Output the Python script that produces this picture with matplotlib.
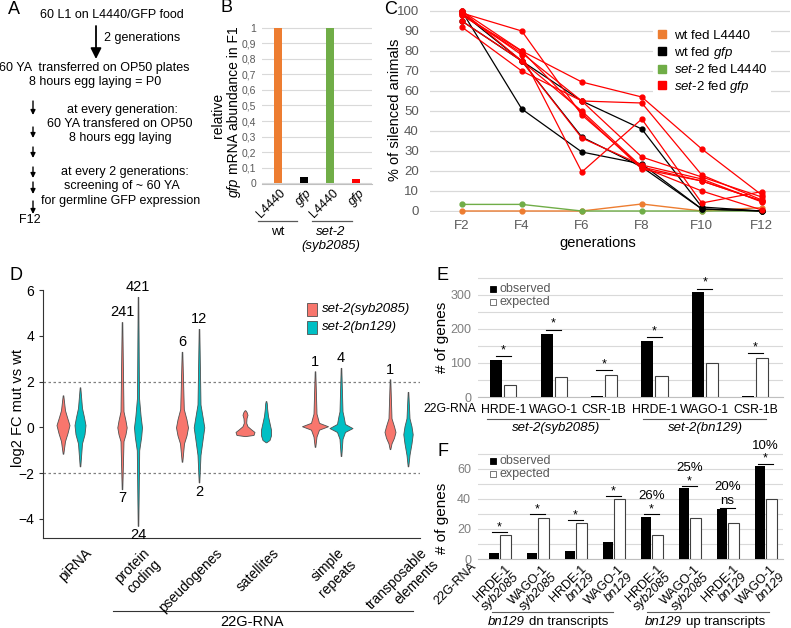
import numpy as np
import matplotlib
matplotlib.use('Agg')
import matplotlib.pyplot as plt
from matplotlib.patches import Rectangle
from matplotlib.lines import Line2D

plt.rcParams['font.family'] = ['Liberation Sans', 'DejaVu Sans']
plt.rcParams['mathtext.fontset'] = 'custom'
plt.rcParams['mathtext.rm'] = 'Liberation Sans'
plt.rcParams['mathtext.it'] = 'Liberation Sans:italic'

# ============  data  ============
# B : relative gfp mRNA abundance
b_labels = ['L4440', 'gfp', 'L4440', 'gfp']
b_values = [1.0, 0.04, 1.0, 0.028]

# C : % of silenced animals
gens = ['F2', 'F4', 'F6', 'F8', 'F10', 'F12']
wt_l4440 = [0, 0, 0, 3.5, 0, 1.7]
set2_l4440 = [3.3, 3.3, 0, 0, 0, 0]
wt_gfp = [
    [100, 51, 29.5, 23.5, 1, 0],
    [95, 75, 55, 41, 2, 0],
    [99, 75, 37, 22, 1, 0],
]
set2_gfp = [
    [99, 90, 48, 22, 15, 5],
    [100, 80, 64.5, 57, 31, 8],
    [98, 79, 55, 54, 18, 5.5],
    [92, 70, 55, 27, 17, 7],
    [95, 75, 50, 22, 10, 0.5],
    [100, 75, 36.5, 23, 16, 4.5],
    [99, 78, 19.5, 46, 4, 9.7],
    [98, 80, 49, 21, 15, 5],
]

# D : violin outlines (log2 FC, half width) per category
d_cats = ['piRNA', 'protein\ncoding', 'pseudogenes', 'satellites',
          'simple\nrepeats', 'transposable\nelements']
viol_syb = [
    [(-1.15, 0.3), (-0.6, 2), (-0.25, 4.5), (0.1, 6.5), (0.45, 4), (0.75, 2), (1.4, 0.3)],
    [(-2.7, 0.3), (-0.6, 1.5), (-0.3, 3.5), (0.0, 4.7), (0.3, 3.5), (0.7, 1.5), (4.6, 0.3)],
    [(-1.5, 0.3), (-0.7, 2), (-0.35, 4.5), (0.0, 6), (0.35, 4.5), (0.8, 1.8), (3.3, 0.3)],
    [(-0.38, 0.3), (-0.33, 8.5), (-0.2, 9.5), (-0.08, 6), (0.05, 2.5), (0.2, 1.2),
     (0.4, 1.5), (0.55, 2.5), (0.68, 1.5), (0.75, 0.3)],
    [(-0.85, 0.3), (-0.4, 1.5), (-0.1, 4), (0.05, 13), (0.2, 4), (0.6, 1.5), (2.45, 0.3)],
    [(-0.95, 0.3), (-0.7, 1.5), (-0.45, 4), (-0.2, 5.5), (0.05, 4), (0.4, 1.5), (2.1, 0.3)],
]
viol_bn = [
    [(-1.7, 0.3), (-0.7, 2), (-0.3, 4.5), (0.1, 5.5), (0.45, 4), (0.85, 2), (1.75, 0.3)],
    [(-4.3, 0.3), (-1.0, 1.2), (-0.4, 3.2), (0.0, 4.0), (0.5, 2.6), (1.3, 1.0), (5.7, 0.3)],
    [(-2.4, 0.3), (-1.2, 1.5), (-0.4, 4), (0.0, 5.3), (0.35, 4), (1.0, 1.5), (4.3, 0.3)],
    [(-0.65, 0.3), (-0.55, 3.5), (-0.35, 5), (-0.1, 5), (0.2, 3.5), (0.5, 2),
     (0.8, 1.2), (1.05, 0.8), (1.15, 0.3)],
    [(-1.25, 0.3), (-0.5, 1.5), (-0.2, 4), (-0.03, 11.5), (0.15, 4), (0.5, 2.5),
     (0.7, 1.5), (2.6, 0.3)],
    [(-1.7, 0.3), (-1.2, 1.5), (-0.7, 3.5), (-0.3, 4.7), (0.05, 3.5), (0.4, 1.5), (1.55, 0.3)],
]
d_up_syb = ['', '241', '6', '', '1', '1']
d_up_bn = ['', '421', '12', '', '4', '']
d_dn_syb = ['', '7', '', '', '', '']
d_dn_bn = ['', '24', '2', '', '', '']

# E : overlap with 22G-RNA targets
e_cats = ['HRDE-1', 'WAGO-1', 'CSR-1B', 'HRDE-1', 'WAGO-1', 'CSR-1B']
e_obs = [108, 184, 2, 163, 307, 4]
e_exp = [35, 59, 64, 61, 100, 113]
e_sig = [119, 198, 79, 175, 318, 128]

# F : bn129 dn / up transcripts
f_cats = ['HRDE-1', 'WAGO-1', 'HRDE-1', 'WAGO-1'] * 2
f_strain = ['syb2085', 'syb2085', 'bn129', 'bn129'] * 2
f_obs = [4, 4, 5, 11, 28, 47, 33, 62]
f_exp = [16, 27, 24, 40, 16, 27, 24, 40]
f_sig = [18, 30, 26, 42, 30, 48.5, 34, 63.5]
f_mark = ['*', '*', '*', '*', '*', '*', 'ns', '*']
f_pct = ['', '', '', '', '26%', '25%', '20%', '10%']

# ============  figure  ============
W, H = 791, 628
fig = plt.figure(figsize=(W / 100, H / 100), dpi=100)
rend = fig.canvas.get_renderer()
GRAY = '#595959'
GRID = '#D9D9D9'


def add_ax(x0, y0, x1, y1):
    return fig.add_axes([x0 / W, 1 - y1 / H, (x1 - x0) / W, (y1 - y0) / H])


ov = fig.add_axes([0, 0, 1, 1], zorder=10)
ov.set_xlim(0, W)
ov.set_ylim(H, 0)
ov.axis('off')


def txt(x, y, s, size=9, **kw):
    kw.setdefault('ha', 'center')
    kw.setdefault('va', 'center')
    return ov.text(x, y, s, fontsize=size, **kw)


def runs(x, y, parts, size, rot=0, color='black'):
    # mixed italic / upright text, centred on x (rot=0) or y (rot=90), baseline anchored
    ts = [ov.text(0, 0, s, fontsize=size, style=st, color=color, rotation=rot,
                  rotation_mode='anchor', ha='left', va='baseline') for s, st in parts]
    gap = size * 100 / 72 * 0.28
    ext = [t.get_window_extent(rend) for t in ts]
    lens = [e.width if rot == 0 else e.height for e in ext]
    total = sum(lens) + gap * (len(ts) - 1)
    cur = x - total / 2 if rot == 0 else y + total / 2
    for t, n in zip(ts, lens):
        if rot == 0:
            t.set_position((cur, y))
            cur += n + gap
        else:
            t.set_position((x, cur))
            cur -= n + gap


def arrow(x, y0, y1, lw, ms):
    ov.annotate('', xy=(x, y1), xytext=(x, y0),
                arrowprops=dict(arrowstyle='-|>', lw=lw, color='black', mutation_scale=ms,
                                shrinkA=0, shrinkB=0))


# panel letters
for s, x, y in [('A', 14, 9), ('B', 227, 8), ('C', 391, 9),
                ('D', 16, 276), ('E', 443, 275), ('F', 443, 451)]:
    txt(x, y, s, 13)

# ============  A : scheme  ============
txt(112, 15, '60 L1 on L4440/GFP food')
txt(104, 38, '2 generations', ha='left')
arrow(96, 26, 59, 1.3, 16)
txt(94, 68, '60 YA  transferred on OP50 plates')
txt(95, 82, '8 hours egg laying = P0')
txt(122, 110, 'at every generation:')
txt(120, 124, '60 YA transfered on OP50')
txt(120, 138, '8 hours egg laying')
txt(125, 172, 'at every 2 generations:')
txt(122, 186, 'screening of ~ 60 YA')
txt(121, 201, 'for germline GFP expression')
txt(30, 220, 'F12')
for y0, y1 in [(101, 115), (127, 138), (147, 158), (167, 178), (182, 194), (201, 214)]:
    arrow(33, y0, y1, 1.0, 7)

# ============  B : bars  ============
axB = add_ax(262, 27, 372, 184)
axB.bar(range(4), b_values, width=0.3, zorder=3,
        color=['#ED7D31', 'black', '#70AD47', '#FF0000'])
axB.set_xlim(-0.6, 3.6)
axB.set_ylim(-0.006, 1.006)
yt = np.round(np.arange(0, 1.01, 0.1), 1)
axB.set_yticks(yt)
axB.set_yticklabels([('%g' % v).replace('.', ',') for v in yt])
axB.set_xticks([])
axB.yaxis.grid(True, color=GRID, lw=0.8)
axB.tick_params(axis='y', length=0, labelsize=7.5, labelcolor=GRAY, pad=4)
for sp in ['top', 'right', 'left']:
    axB.spines[sp].set_visible(False)
axB.spines['bottom'].set_color('#BFBFBF')
for i, lab in enumerate(b_labels):
    ov.text(279 + i * 26.5, 187, lab, fontsize=9, rotation=45, rotation_mode='anchor',
            ha='right', va='top', style='italic' if lab == 'gfp' else 'normal')
ov.plot([258, 297], [221, 221], color=GRAY, lw=0.9)
ov.plot([312, 352], [221, 221], color=GRAY, lw=0.9)
txt(278, 232, 'wt', 9.5)
txt(331, 232, 'set-2', 9.5, style='italic')
txt(331, 246, '(syb2085)', 9.5, style='italic')
txt(218, 115, 'relative', 10, rotation=90)
runs(238, 112, [('gfp', 'italic'), ('mRNA abundance in F1', 'normal')], 10, rot=90)

# ============  C : silencing over generations  ============
axC = add_ax(430, 10, 790, 212)
xg = np.arange(len(gens))
axC.plot(xg, wt_l4440, color='#ED7D31', lw=1.0, marker='o', ms=3.5, clip_on=False, zorder=3)
axC.plot(xg, set2_l4440, color='#70AD47', lw=1.0, marker='o', ms=3.5, clip_on=False, zorder=3)
for s in wt_gfp:
    axC.plot(xg, s, color='black', lw=0.9, marker='o', ms=3.5, clip_on=False, zorder=3)
for s in set2_gfp:
    axC.plot(xg, s, color='#FF0000', lw=0.9, marker='o', ms=3.5, clip_on=False, zorder=4)
axC.set_xlim(-0.53, 5.47)
axC.set_ylim(-0.5, 100.5)
axC.set_yticks(range(0, 101, 10))
axC.set_xticks(xg)
axC.set_xticklabels(gens)
axC.yaxis.grid(True, color=GRID, lw=0.9)
axC.tick_params(length=0, labelsize=9.5, labelcolor=GRAY)
axC.tick_params(axis='y', pad=8)
axC.tick_params(axis='x', pad=6)
for sp in axC.spines.values():
    sp.set_visible(False)
handles = [Line2D([], [], ls='', marker='s', ms=6, color=c)
           for c in ['#ED7D31', 'black', '#70AD47', '#FF0000']]
labels = ['wt fed L4440', r'wt fed $\mathit{gfp}$', r'$\mathit{set}$-2 fed L4440',
          r'$\mathit{set}$-2 fed $\mathit{gfp}$']
legC = axC.legend(handles, labels, loc='upper left', bbox_to_anchor=(0.6, 0.955),
                  fontsize=9.5, handlelength=0.8, handletextpad=0.5, labelspacing=0.2,
                  borderpad=0.3, frameon=True, fancybox=False)
legC.get_frame().set_edgecolor('none')
legC.get_frame().set_alpha(1)
txt(395, 110, '% of silenced animals', 10.5, rotation=90)
txt(598, 243, 'generations', 10.5)

# ============  D : violins  ============
axD = add_ax(43, 290, 420, 538)
x_syb = [63, 122, 182, 245, 315, 390]
x_bn = [80, 138, 199, 266, 341, 408]
for xs, profs, col, ups, dns in [(x_syb, viol_syb, '#F8766D', d_up_syb, d_dn_syb),
                                 (x_bn, viol_bn, '#00BFC4', d_up_bn, d_dn_bn)]:
    for xc, prof, up, dn in zip(xs, profs, ups, dns):
        ys = np.array([p[0] for p in prof])
        hw = np.array([p[1] for p in prof])
        axD.fill_betweenx(ys, xc - hw, xc + hw, facecolor=col, edgecolor='#505050',
                          lw=0.6, zorder=3)
        if up:
            axD.text(xc, ys.max() + 0.42, up, ha='center', va='center', fontsize=10.5)
        if dn:
            axD.text(xc, ys.min() - 0.4, dn, ha='center', va='center', fontsize=10.5)
for v in (2, -2):
    axD.axhline(v, color='#808080', lw=0.9, ls=(0, (2, 2)))
axD.set_xlim(43, 420)
axD.set_ylim(-4.83, 6.0)
axD.set_yticks([-4, -2, 0, 2, 4, 6])
axD.set_xticks([])
axD.tick_params(axis='y', labelsize=10, length=3, color='#333333')
for sp in ['top', 'right']:
    axD.spines[sp].set_visible(False)
for sp in ['left', 'bottom']:
    axD.spines[sp].set_color('#333333')
    axD.spines[sp].set_linewidth(0.8)
for xa, lab in zip([85, 142, 215, 272, 337, 420], d_cats):
    ov.text(xa, 546, lab, fontsize=10, rotation=45, rotation_mode='anchor',
            ha='right', va='top', multialignment='right')
ov.plot([113, 413], [611, 611], color='#333333', lw=0.8)
txt(252, 622, '22G-RNA', 10.5)
txt(18, 408, 'log2 FC mut vs wt', 10.5, rotation=90)
for y, col, lab in [(309, '#F8766D', 'set-2(syb2085)'), (327, '#00BFC4', 'set-2(bn129)')]:
    ov.add_patch(Rectangle((307, y - 6.5), 10, 13, facecolor=col, edgecolor='#505050', lw=0.6))
    txt(322, y, lab, 9.5, ha='left', style='italic')

# ============  E  ============
axE = add_ax(478, 277, 783, 397)
pe = np.arange(1, len(e_cats) + 1)
axE.bar(pe - 0.14, e_obs, width=0.24, color='black', zorder=3)
axE.bar(pe + 0.14, e_exp, width=0.24, color='white', edgecolor='#404040', lw=0.8, zorder=3)
for p, v in zip(pe, e_sig):
    axE.plot([p - 0.15, p + 0.15], [v, v], color='black', lw=0.8)
    axE.annotate('*', (p, v), xytext=(0, 0), textcoords='offset points',
                 ha='center', va='bottom', fontsize=9)
axE.set_xlim(0.5, 6.55)
axE.set_ylim(0, 352)
axE.set_yticks(range(0, 351, 50))
axE.set_yticklabels(['0', '', '100', '', '200', '', '300', ''])
axE.set_xticks(pe)
axE.set_xticklabels(e_cats)
axE.yaxis.grid(True, color=GRID, lw=0.8)
axE.tick_params(length=0, labelsize=9)
axE.tick_params(axis='y', labelcolor='#7F7F7F', pad=5)
axE.tick_params(axis='x', labelsize=8.8, pad=5)
for sp in ['top', 'right', 'left']:
    axE.spines[sp].set_visible(False)
axE.spines['bottom'].set_color('#BFBFBF')
txt(450, 409, '22G-RNA', 8.8)
ov.plot([487, 609], [419, 419], color=GRAY, lw=0.8)
ov.plot([643, 766], [419, 419], color=GRAY, lw=0.8)
txt(556, 428, 'set-2(syb2085)', 9.5, style='italic')
txt(705, 428, 'set-2(bn129)', 9.5, style='italic')
txt(442, 337, '# of genes', 11, rotation=90)

# ============  F  ============
axF = add_ax(478, 453, 783, 559)
pf = np.arange(1, len(f_cats) + 1)
axF.bar(pf - 0.15, f_obs, width=0.28, color='black', zorder=3)
axF.bar(pf + 0.15, f_exp, width=0.28, color='white', edgecolor='#404040', lw=0.8, zorder=3)
for p, v, m, pc in zip(pf, f_sig, f_mark, f_pct):
    axF.plot([p - 0.2, p + 0.2], [v, v], color='black', lw=0.8)
    axF.annotate(m, (p, v), xytext=(0, 0.5 if m == 'ns' else -1), textcoords='offset points',
                 ha='center', va='bottom', fontsize=9 if m == '*' else 9.5)
    if pc:
        axF.annotate(pc, (p, v), xytext=(0, 8.5 if m == '*' else 11), textcoords='offset points',
                     ha='center', va='bottom', fontsize=9.5)
axF.set_xlim(0.43, 8.46)
axF.set_ylim(0, 70.5)
axF.set_yticks(range(0, 71, 10))
axF.set_yticklabels(['0', '', '20', '', '40', '', '60', ''])
axF.set_xticks([])
axF.yaxis.grid(True, color=GRID, lw=0.8)
axF.tick_params(length=0, labelsize=9, labelcolor='#7F7F7F', pad=5)
for sp in ['top', 'right', 'left']:
    axF.spines[sp].set_visible(False)
axF.spines['bottom'].set_color('#BFBFBF')
for i, (c, s) in enumerate(zip(f_cats, f_strain)):
    xa = 504 + i * 38
    ov.text(xa, 563, c, fontsize=9, rotation=45, rotation_mode='anchor', ha='right', va='top')
    ov.text(xa + 9, 571, s, fontsize=9, rotation=45, rotation_mode='anchor',
            ha='right', va='top', style='italic')
ov.text(470, 560, '22G-RNA', fontsize=9, rotation=45, rotation_mode='anchor',
        ha='right', va='top')
ov.plot([492, 613], [612, 612], color=GRAY, lw=0.8)
ov.plot([647, 769], [612, 612], color=GRAY, lw=0.8)
runs(548, 625, [('bn129', 'italic'), ('dn transcripts', 'normal')], 9.5)
runs(705, 625, [('bn129', 'italic'), ('up transcripts', 'normal')], 9.5)
txt(442, 518, '# of genes', 11, rotation=90)

# legends of E and F
for y0 in (289, 461):
    ov.add_patch(Rectangle((490, y0 - 3), 6, 6, facecolor='black', edgecolor='black', lw=0.6))
    ov.add_patch(Rectangle((490, y0 + 10), 6, 6, facecolor='white', edgecolor='#606060', lw=0.6))
    txt(499, y0, 'observed', 9, ha='left', color=GRAY)
    txt(499, y0 + 13, 'expected', 9, ha='left', color=GRAY)

fig.savefig('out.png', dpi=100)
